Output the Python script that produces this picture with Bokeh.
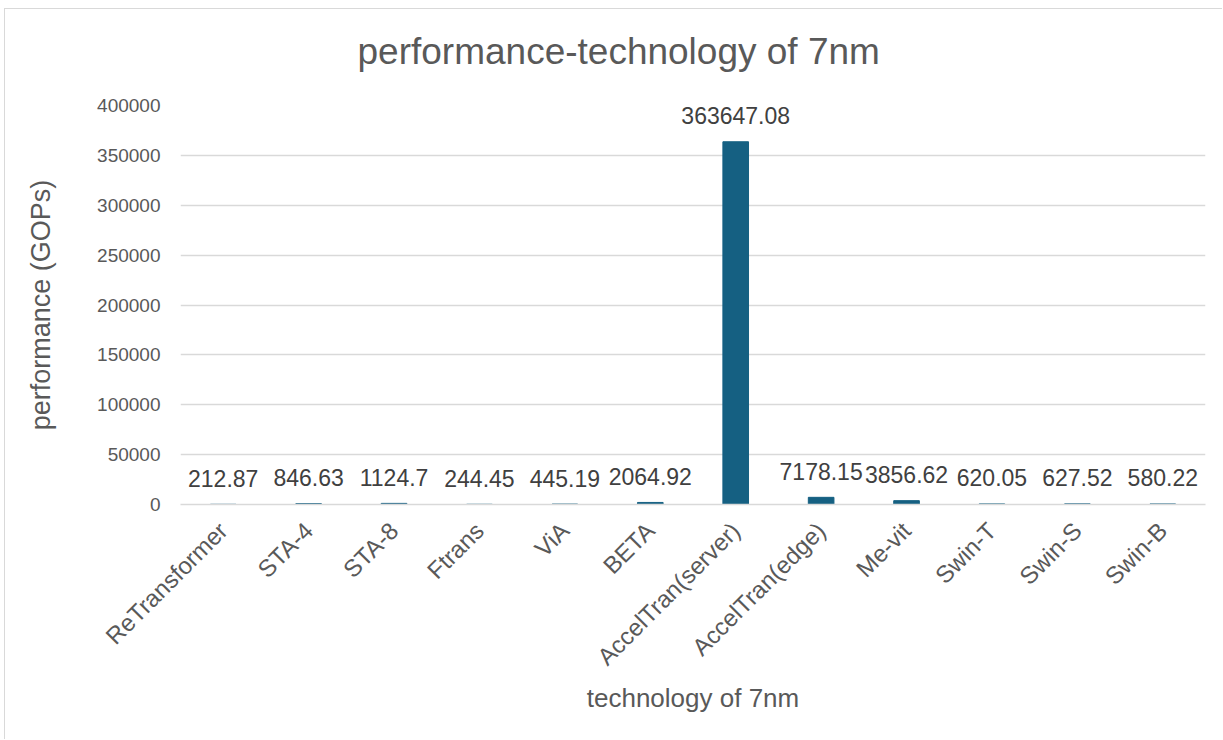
import math

from bokeh.core.properties import value
from bokeh.embed import file_html
from bokeh.models import ColumnDataSource, FactorRange, FixedTicker, NumeralTickFormatter, Range1d, Title
from bokeh.plotting import figure
from bokeh.resources import INLINE

# Accelerator designs at the 7nm node and their throughput (GOPs)
categories = [
    "ReTransformer", "STA-4", "STA-8", "Ftrans", "ViA", "BETA",
    "AccelTran(server)", "AccelTran(edge)", "Me-vit", "Swin-T", "Swin-S", "Swin-B",
]
performance = [
    212.87, 846.63, 1124.7, 244.45, 445.19, 2064.92,
    363647.08, 7178.15, 3856.62, 620.05, 627.52, 580.22,
]
y_ticks = [0, 50000, 100000, 150000, 200000, 250000, 300000, 350000, 400000]

FONT = "Liberation Sans"
TEXT = "#595959"
GRID = "#d9d9d9"
BAR = "#156082"

source = ColumnDataSource(dict(
    cat=categories,
    val=performance,
    label=[str(v) for v in performance],
))

p = figure(
    x_range=FactorRange(factors=categories, range_padding=0),
    y_range=Range1d(0, 400000),
    width=1218, height=731,
    output_backend="svg", toolbar_location=None,
    min_border_left=175, min_border_right=18,
    min_border_top=96, min_border_bottom=236,
)
p.margin = (9, 0, 0, 5)
p.styles = {"box-shadow": "-1px -1px 0 0 #d9d9d9"}
p.outline_line_color = None
p.background_fill_color = "white"
p.border_fill_color = "white"

# blank spacer between the frame and the chart title
p.add_layout(Title(text=" ", text_font_size="1px", standoff=16), "above")

p.title.text = "performance-technology of 7nm"
p.title.text_font = FONT
p.title.text_font_size = "37px"
p.title.text_font_style = "normal"
p.title.text_color = TEXT
p.title.align = "left"
p.title.offset = 177
p.title.standoff = 30

p.vbar(x="cat", top="val", width=0.3, color=BAR, source=source)

p.text(
    x="cat", y="val", text="label", source=source,
    text_align="center", text_baseline="alphabetic", y_offset=-26,
    text_font=value(FONT), text_font_size="23px", text_color="#404040",
)

# grid
p.xgrid.grid_line_color = None
p.ygrid.grid_line_color = GRID
p.ygrid.grid_line_width = 1.3

# y axis
p.yaxis.ticker = FixedTicker(ticks=y_ticks)
p.yaxis.formatter = NumeralTickFormatter(format="0")
p.yaxis.axis_line_color = None
p.yaxis.major_tick_line_color = None
p.yaxis.major_tick_out = 0
p.yaxis.minor_tick_line_color = None
p.yaxis.major_label_text_font = FONT
p.yaxis.major_label_text_font_size = "19px"
p.yaxis.major_label_text_color = TEXT
p.yaxis.major_label_standoff = 20
p.yaxis.axis_label = "performance (GOPs)"
p.yaxis.axis_label_text_font = FONT
p.yaxis.axis_label_text_font_size = "27px"
p.yaxis.axis_label_text_font_style = "normal"
p.yaxis.axis_label_text_color = TEXT
p.yaxis.axis_label_standoff = 38

# x axis
p.xaxis.axis_line_color = GRID
p.xaxis.axis_line_width = 1.3
p.xaxis.major_tick_line_color = None
p.xaxis.major_tick_out = 0
p.xaxis.minor_tick_line_color = None
p.xaxis.major_label_orientation = math.pi / 4
p.xaxis.major_label_text_font = FONT
p.xaxis.major_label_text_font_size = "24px"
p.xaxis.major_label_text_color = TEXT
p.xaxis.major_label_standoff = 22
p.xaxis.axis_label = "technology of 7nm"
p.xaxis.axis_label_text_font = FONT
p.xaxis.axis_label_text_font_size = "26px"
p.xaxis.axis_label_text_font_style = "normal"
p.xaxis.axis_label_text_color = TEXT
p.xaxis.axis_label_standoff = 0

open("out.html", "w").write(file_html(p, INLINE))
